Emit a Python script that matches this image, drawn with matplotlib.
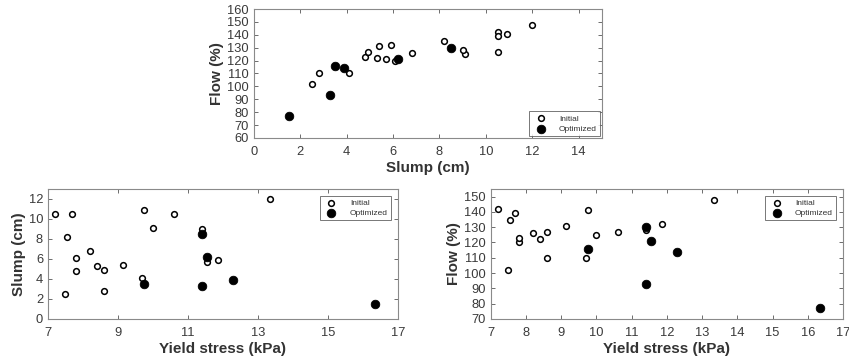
import numpy as np
import matplotlib.pyplot as plt

plt.rcParams['font.family'] = ['Liberation Sans', 'DejaVu Sans']

# Initial mixes: yield stress (kPa), slump (cm), flow (%)
init_yield = [7.2, 7.7, 7.55, 7.8, 7.8, 7.5, 8.2, 8.4, 8.6, 8.6, 9.15, 9.7, 9.75, 10.0, 10.6, 11.4, 11.55, 11.85, 13.35]
init_slump = [10.5, 10.5, 8.2, 6.1, 4.8, 2.5, 6.8, 5.3, 4.9, 2.8, 5.4, 4.1, 10.9, 9.1, 10.5, 9.0, 5.7, 5.9, 12.0]
init_flow = [142, 139, 135, 120, 123, 102, 126, 122, 127, 110, 131, 110, 141, 125, 127, 128, 121, 132, 148]

# Optimized mixes
opt_yield = [9.75, 11.4, 11.4, 11.55, 12.3, 16.35]
opt_slump = [3.5, 8.5, 3.3, 6.2, 3.9, 1.5]
opt_flow = [116, 130, 93, 121, 114, 77]

fig = plt.figure(figsize=(8.49, 3.62), dpi=100)
ax1 = fig.add_axes([0.299, 0.619, 0.410, 0.356])
ax2 = fig.add_axes([0.0565, 0.119, 0.412, 0.359])
ax3 = fig.add_axes([0.578, 0.119, 0.415, 0.359])

open_kw = dict(marker='o', s=17, facecolors='white', edgecolors='black', linewidths=1.1, zorder=3)
fill_kw = dict(marker='o', s=38, facecolors='black', edgecolors='black', linewidths=0.6, zorder=4)


def style(ax, xlabel, ylabel, loc, pad_ax):
    for sp in ax.spines.values():
        sp.set_color('#8a8a8a')
        sp.set_linewidth(0.8)
    ax.tick_params(direction='in', top=True, right=True, length=3, width=0.6,
                   color='#555555', labelsize=9.3, labelcolor='#3a3a3a')
    ax.tick_params(axis='x', pad=5.5)
    ax.tick_params(axis='y', pad=3.5)
    ax.set_xlabel(xlabel, fontsize=11, fontweight='bold', color='#333333', labelpad=2.5)
    ax.set_ylabel(ylabel, fontsize=11, fontweight='bold', color='#333333', labelpad=2)
    leg = ax.legend(['Initial', 'Optimized'], loc=loc,
                    fontsize=6, frameon=True, fancybox=False, borderpad=0.4,
                    handletextpad=1.2, labelspacing=0.3, borderaxespad=pad_ax)
    leg.get_frame().set_edgecolor('#555555')
    leg.get_frame().set_linewidth(0.7)
    for t in leg.get_texts():
        t.set_color('#333333')


# slump vs flow
ax1.scatter(init_slump, init_flow, **open_kw)
ax1.scatter(opt_slump, opt_flow, **fill_kw)
ax1.set_xlim(0, 15)
ax1.set_ylim(60, 160)
ax1.set_xticks(np.arange(0, 15, 2))
ax1.set_yticks(np.arange(60, 161, 10))
style(ax1, 'Slump (cm)', 'Flow (%)', 'lower right', 0.2)

# yield stress vs slump
ax2.scatter(init_yield, init_slump, **open_kw)
ax2.scatter(opt_yield, opt_slump, **fill_kw)
ax2.set_xlim(7, 17)
ax2.set_ylim(0, 13)
ax2.set_xticks(np.arange(7, 18, 2))
ax2.set_yticks(np.arange(0, 13, 2))
style(ax2, 'Yield stress (kPa)', 'Slump (cm)', 'upper right', 0.8)

# yield stress vs flow
ax3.scatter(init_yield, init_flow, **open_kw)
ax3.scatter(opt_yield, opt_flow, **fill_kw)
ax3.set_xlim(7, 17)
ax3.set_ylim(70, 155)
ax3.set_xticks(np.arange(7, 18, 1))
ax3.set_yticks(np.arange(70, 151, 10))
style(ax3, 'Yield stress (kPa)', 'Flow (%)', 'upper right', 0.8)

fig.savefig('out.png', dpi=100)
